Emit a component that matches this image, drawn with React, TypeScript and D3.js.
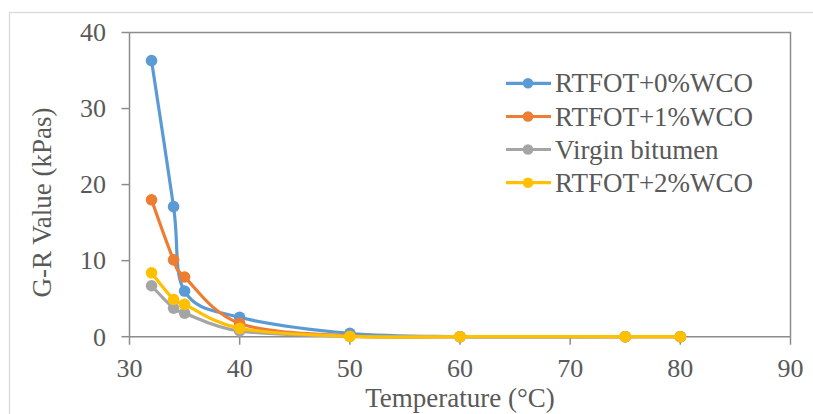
import React from "react";
import * as d3 from "d3";

// Temperatures (°C) at which G-R values were measured
const temperatures = [32, 34, 35, 40, 50, 60, 75, 80];

// G-R values (kPas) per binder
const rtfot0 = [36.3, 17.1, 6.0, 2.55, 0.45, 0, 0, 0];
const rtfot1 = [18.0, 10.1, 7.85, 1.75, 0.1, 0, 0, 0];
const virgin = [6.7, 3.75, 3.1, 0.75, 0.05, 0, 0, 0];
const rtfot2 = [8.4, 4.9, 4.25, 1.1, 0.03, 0, 0, 0];

const seriesNames = ["RTFOT+0%WCO", "RTFOT+1%WCO", "Virgin bitumen", "RTFOT+2%WCO"];
const seriesValues = [rtfot0, rtfot1, virgin, rtfot2];
const seriesColors = ["#5B9BD5", "#ED7D31", "#A5A5A5", "#FFC000"];

const xTicks = [30, 40, 50, 60, 70, 80, 90];
const yTicks = [0, 10, 20, 30, 40];

const W = 813;
const H = 414;
const plot = { left: 129.5, right: 790.5, top: 32.5, bottom: 336.7 };
const font = "'Liberation Serif', 'Times New Roman', serif";
const textColor = "#595959";
const axisColor = "#8c8c8c";

export default function App() {
  const x = d3.scaleLinear().domain([30, 90]).range([plot.left, plot.right]);
  const y = d3.scaleLinear().domain([0, 40]).range([plot.bottom, plot.top]);

  const line = d3
    .line<[number, number]>()
    .x((d) => x(d[0]))
    .y((d) => y(d[1]))
    .curve(d3.curveCardinal.tension(0));

  const legendY = [83.3, 116.5, 149.5, 182.7];

  return (
    <svg
      width={W}
      height={H}
      style={{ position: "absolute", left: 0, top: 0, background: "#fff" }}
      fontFamily={font}
    >
      {/* chart frame */}
      <rect x={9.5} y={12.5} width={W + 20} height={H + 20} fill="#fff" stroke="#d9d9d9" strokeWidth={1.3} />

      {/* plot border (top and right) */}
      <path
        d={`M${plot.left},${plot.top}H${plot.right}V${plot.bottom}`}
        fill="none"
        stroke={axisColor}
        strokeWidth={1.5}
      />

      {/* y axis */}
      <line x1={plot.left} x2={plot.left} y1={plot.top} y2={plot.bottom} stroke={axisColor} strokeWidth={1.5} />
      {yTicks.map((t) => (
        <g key={"y" + t}>
          <line x1={plot.left - 8} x2={plot.left} y1={y(t)} y2={y(t)} stroke={axisColor} strokeWidth={1.5} />
          <text x={106} y={y(t)} dy="0.34em" textAnchor="end" fontSize={26} fill={textColor}>
            {t}
          </text>
        </g>
      ))}

      {/* x axis */}
      <line x1={plot.left} x2={plot.right} y1={plot.bottom} y2={plot.bottom} stroke={axisColor} strokeWidth={1.5} />
      {xTicks.map((t) => (
        <g key={"x" + t}>
          <line x1={x(t)} x2={x(t)} y1={plot.bottom} y2={plot.bottom + 8} stroke={axisColor} strokeWidth={1.5} />
          <text x={x(t)} y={377} textAnchor="middle" fontSize={26} fill={textColor}>
            {t}
          </text>
        </g>
      ))}

      {/* axis titles */}
      <text x={460} y={407} textAnchor="middle" fontSize={27} fill={textColor}>
        Temperature (°C)
      </text>
      <text transform={`translate(51,202.5) rotate(-90)`} textAnchor="middle" fontSize={27} fill={textColor}>
        G-R Value (kPas)
      </text>

      {/* series */}
      {seriesValues.map((vals, i) => {
        const pts: [number, number][] = temperatures.map((t, j) => [t, vals[j]]);
        return (
          <g key={seriesNames[i]}>
            <path d={line(pts) || ""} fill="none" stroke={seriesColors[i]} strokeWidth={3.2} strokeLinejoin="round" />
            {pts.map((p, j) => (
              <circle key={j} cx={x(p[0])} cy={y(p[1])} r={5.8} fill={seriesColors[i]} />
            ))}
          </g>
        );
      })}

      {/* legend */}
      {seriesNames.map((name, i) => (
        <g key={"lg" + name}>
          <line x1={506} x2={551} y1={legendY[i]} y2={legendY[i]} stroke={seriesColors[i]} strokeWidth={3.2} />
          <circle cx={528} cy={legendY[i]} r={5.3} fill={seriesColors[i]} />
          <text x={555} y={legendY[i]} dy="0.34em" fontSize={27} fill={textColor}>
            {name}
          </text>
        </g>
      ))}
    </svg>
  );
}
